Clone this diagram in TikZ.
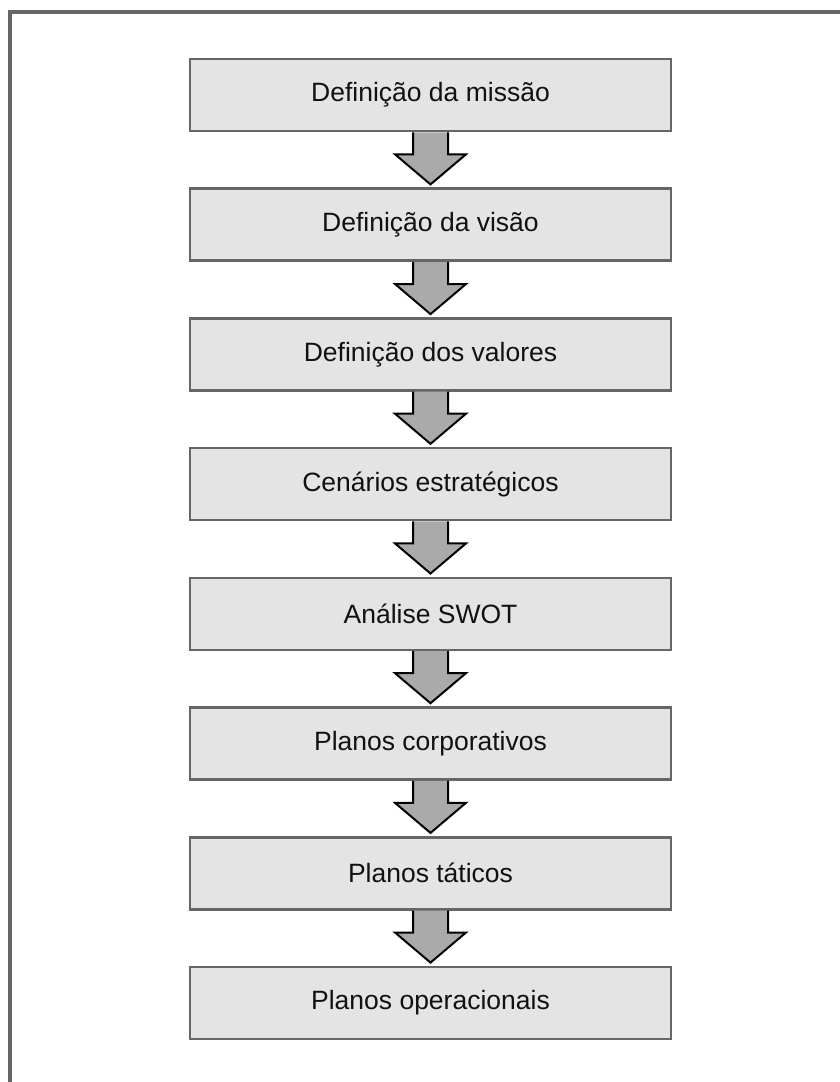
\documentclass[tikz,border=0pt]{standalone}
\usepackage{fontspec}
\setmainfont{Liberation Sans}
\usetikzlibrary{calc}
\definecolor{framegray}{HTML}{666666}
\definecolor{boxfill}{HTML}{E4E4E4}
\definecolor{arrowfill}{HTML}{AAAAAA}
\definecolor{textcol}{HTML}{111111}
\begin{document}
\begin{tikzpicture}[x=1pt,y=-1pt,
  stepbox/.style={draw=framegray, line width=2.6pt, fill=boxfill,
    minimum width=481pt, minimum height=72pt, inner sep=0pt,
    font=\fontsize{26.5}{30}\selectfont, text=textcol},
  blockarrow/.style={draw=black, line width=2pt, fill=arrowfill, line join=miter}]
  \useasboundingbox (0,0) rectangle (840,1082);
  \fill[white] (0,0) rectangle (840,1082);
  % outer frame: top and left edges
  \draw[framegray, line width=4pt, line join=miter] (842,12) -- (10,12) -- (10,1084);

  \foreach \i/\txt in {1/Definição da missão,2/Definição da visão,3/Definição dos valores,
                       4/Cenários estratégicos,5/Análise SWOT,6/Planos corporativos,
                       7/Planos táticos,8/Planos operacionais}
    \node[stepbox] (b\i) at (430.5, {95+(\i-1)*129.7}) {\txt};

  % block arrows between consecutive steps
  \foreach \i [evaluate=\i as \j using int(\i+1)] in {1,...,7}
    \draw[blockarrow]
      ($(b\i.south)+(-17.5,0)$) -- ($(b\i.south)+(-17.5,22)$) -- ($(b\i.south)+(-35.5,22)$)
      -- ($(b\j.north)+(0,-3)$)
      -- ($(b\i.south)+(35.5,22)$) -- ($(b\i.south)+(17.5,22)$) -- ($(b\i.south)+(17.5,0)$);
\end{tikzpicture}
\end{document}
